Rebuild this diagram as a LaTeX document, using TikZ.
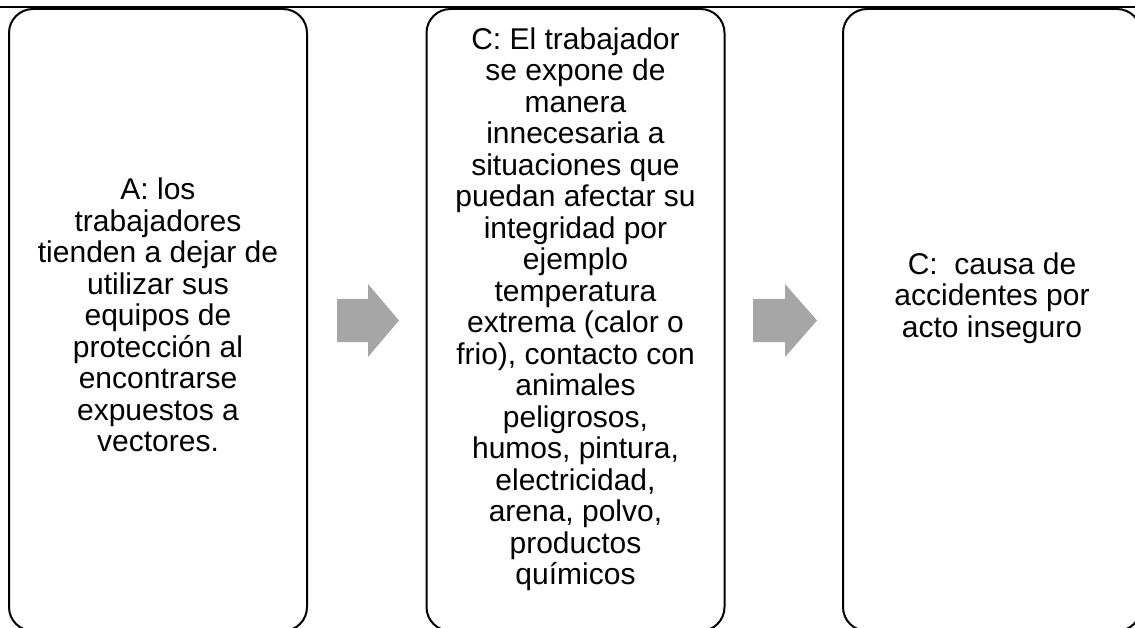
\documentclass[tikz,border=0pt]{standalone}
\usepackage{fontspec}
\setmainfont{Liberation Sans}
\definecolor{arrowgray}{RGB}{166,166,166}
\begin{document}
\begin{tikzpicture}[x=1pt,y=-1pt,
  box/.style={draw=black,line width=2pt,rounded corners=24pt,minimum width=298pt,minimum height=622pt,inner sep=0pt},
  txt/.style={align=center,inner sep=0pt,font=\fontsize{30}{31.5}\selectfont},
  blockarrow/.style={fill=arrowgray,draw=none}]
\useasboundingbox (0,0) rectangle (1135,628);
\node[box] (b1) at (158,320) {};
\node[box] (b2) at (575.5,320) {};
\node[box] (b3) at (992,320) {};
\draw[line width=2.5pt] (0,7) -- (1135,7);
\node[txt] (t1) at (b1.center |- 0,315) {A: los\\trabajadores\\tienden a dejar de\\utilizar sus\\equipos de\\protección al\\encontrarse\\expuestos a\\vectores.};
\node[txt] (t2) at (b2.center |- 0,309) {C: El trabajador\\se expone de\\manera\\innecesaria a\\situaciones que\\puedan afectar su\\integridad por\\ejemplo\\temperatura\\extrema (calor o\\frio), contacto con\\animales\\peligrosos,\\humos, pintura,\\electricidad,\\arena, polvo,\\productos\\químicos};
\node[txt] (t3) at (b3.center |- 0,298) {C:\ \ causa de\\accidentes por\\acto inseguro};
\fill[blockarrow] (337,299) -- (368,299) -- (368,284) -- (399,320.5) -- (368,357) -- (368,342) -- (337,342) -- cycle;
\fill[blockarrow] (753,299) -- (785,299) -- (785,284) -- (817,320.5) -- (785,357) -- (785,342) -- (753,342) -- cycle;
\end{tikzpicture}
\end{document}
